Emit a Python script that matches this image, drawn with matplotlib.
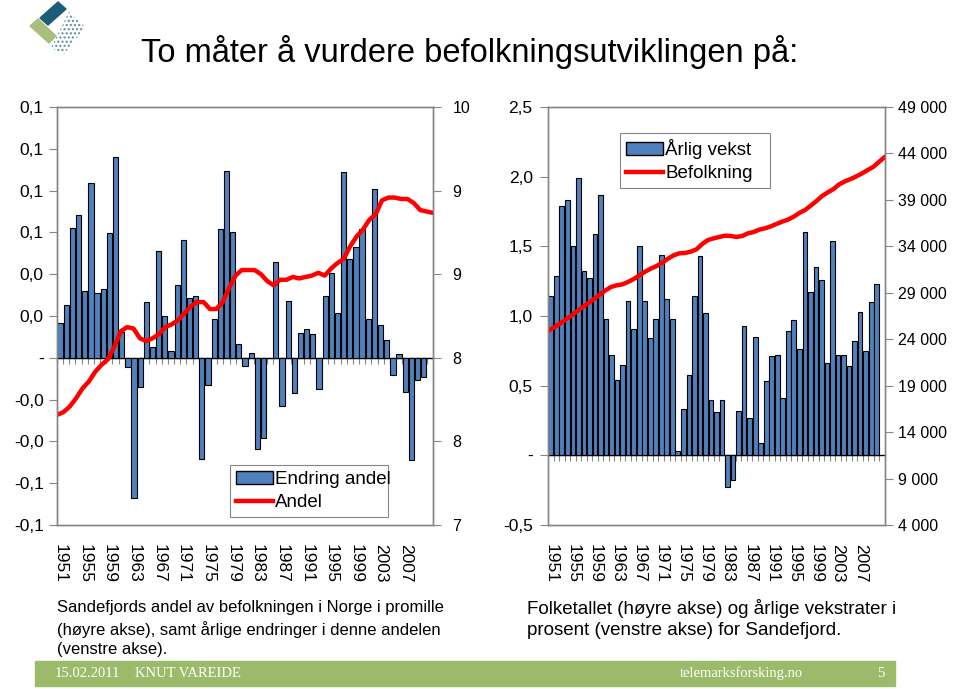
import numpy as np
import matplotlib
matplotlib.use("Agg")
import matplotlib.pyplot as plt
from matplotlib.patches import Rectangle, Polygon, Patch
from matplotlib.lines import Line2D

plt.rcParams['font.family'] = ['Liberation Sans', 'DejaVu Sans']

# --- data -------------------------------------------------------------
years = list(range(1951, 2011))
year_labels = [str(y) if (y - 1951) % 4 == 0 else '' for y in years]

# venstre figur: årlig endring i andel (promille-poeng) og andel (promille)
endring_andel = [0.0166, 0.0254, 0.0621, 0.0682, 0.0318, 0.0835, 0.0312, 0.0328, 0.0597, 0.0960,
                 0.0123, -0.0043, -0.0672, -0.0139, 0.0267, 0.0051, 0.0512, 0.0200, 0.0032, 0.0347,
                 0.0562, 0.0288, 0.0298, -0.0486, -0.0128, 0.0187, 0.0618, 0.0893, 0.0602, 0.0064,
                 -0.0037, 0.0024, -0.0434, -0.0384, 0.0000, 0.0458, -0.0230, 0.0272, -0.0168, 0.0117,
                 0.0136, 0.0114, -0.0150, 0.0296, 0.0408, 0.0213, 0.0888, 0.0472, 0.0528, 0.0614,
                 0.0186, 0.0810, 0.0155, 0.0083, -0.0080, 0.0016, -0.0165, -0.0488, -0.0104, -0.0091]
andel = [7.79, 7.81, 7.85, 7.91, 7.98, 8.03, 8.10, 8.15, 8.19, 8.28,
         8.39, 8.42, 8.41, 8.34, 8.32, 8.34, 8.37, 8.42, 8.44, 8.47,
         8.52, 8.57, 8.60, 8.60, 8.55, 8.55, 8.60, 8.70, 8.79, 8.83,
         8.83, 8.83, 8.80, 8.75, 8.72, 8.76, 8.76, 8.78, 8.77, 8.78,
         8.79, 8.81, 8.79, 8.84, 8.88, 8.91, 9.00, 9.07, 9.12, 9.19,
         9.23, 9.33, 9.35, 9.35, 9.34, 9.34, 9.31, 9.26, 9.25, 9.24]

# høyre figur: årlig vekst (%) og folketall
arlig_vekst = [1.14, 1.29, 1.79, 1.83, 1.50, 1.99, 1.32, 1.27, 1.59, 1.87,
               0.98, 0.72, 0.54, 0.65, 1.11, 0.91, 1.50, 1.11, 0.84, 0.98,
               1.44, 1.12, 0.98, 0.03, 0.33, 0.58, 1.14, 1.43, 1.02, 0.40,
               0.31, 0.40, -0.23, -0.18, 0.32, 0.93, 0.27, 0.85, 0.09, 0.53,
               0.71, 0.72, 0.41, 0.89, 0.97, 0.76, 1.60, 1.17, 1.35, 1.26,
               0.66, 1.54, 0.72, 0.72, 0.64, 0.82, 1.03, 0.75, 1.10, 1.23]
befolkning = [24890, 25250, 25640, 26070, 26500, 26970, 27430, 27870, 28300, 28760,
              29230, 29620, 29800, 29910, 30160, 30480, 30880, 31270, 31600, 31880,
              32240, 32670, 33030, 33250, 33280, 33430, 33680, 34250, 34680, 34860,
              35010, 35150, 35110, 35010, 35110, 35400, 35540, 35800, 35940, 36150,
              36410, 36660, 36870, 37190, 37590, 37910, 38380, 38880, 39420, 39820,
              40170, 40680, 41000, 41250, 41540, 41860, 42220, 42580, 43120, 43650]

# akseverdier og etiketter
l_left_ticks = [-0.08, -0.06, -0.04, -0.02, 0.0, 0.02, 0.04, 0.06, 0.08, 0.10, 0.12]
l_left_labels = ['-0,1', '-0,1', '-0,0', '-0,0', '-', '0,0', '0,0', '0,1', '0,1', '0,1', '0,1']
l_right_ticks = [7.0, 7.6, 8.2, 8.8, 9.4, 10.0]
l_right_labels = ['7', '8', '8', '9', '9', '10']
r_left_ticks = [-0.5, 0.0, 0.5, 1.0, 1.5, 2.0, 2.5]
r_left_labels = ['-0,5', '-', '0,5', '1,0', '1,5', '2,0', '2,5']
r_right_ticks = list(range(4000, 49001, 5000))
r_right_labels = ['{:,}'.format(v).replace(',', ' ') for v in r_right_ticks]

BAR_BLUE = '#4f81bd'
RED = '#ff0000'
GRAY = '#868686'

fig = plt.figure(figsize=(9.6, 6.89), dpi=100)

# dekor: logo og bunnlinje i pikselkoordinater
deco = fig.add_axes([0, 0, 1, 1], zorder=-5)
deco.set_xlim(0, 960)
deco.set_ylim(689, 0)
deco.axis('off')
deco.add_patch(Polygon([(40, 18), (58, 2), (66, 9), (48, 25)], closed=True, color='#1d5c78'))
deco.add_patch(Polygon([(30, 26), (38, 19), (56, 36), (49, 43)], closed=True, color='#a9c07c'))
deco.add_patch(Polygon([(51, 48), (69, 12), (85, 27), (64, 54)], closed=True,
                       facecolor='none', edgecolor='#5a8a9c', hatch='....', linewidth=0))
deco.add_patch(Rectangle((35, 661), 860, 25, color='#9bbb6a'))
foot = dict(color='white', fontsize=10.5, family='Liberation Serif', va='center')
deco.text(55, 673.5, '15.02.2011', **foot)
deco.text(135, 673.5, 'KNUT VAREIDE', **foot)
deco.text(680, 673.5, 'telemarksforsking.no', **foot)
deco.text(877, 673.5, '5', **foot)

fig.text(470 / 960, 1 - 52 / 689, 'To måter å vurdere befolkningsutviklingen på:',
         ha='center', va='center', fontsize=23.5)

x = np.arange(len(years))
x_line = np.linspace(-0.5, 60.5, len(years))


def style_panel(ax, axr, zero_frac):
    for a in (ax, axr):
        for s in a.spines.values():
            s.set_color(GRAY)
            s.set_linewidth(1.0)
    ax.set_xlim(-0.5, 60.5)
    ax.set_xticks(x)
    ax.set_xticklabels(year_labels, rotation=-90, fontsize=12.5)
    ax.tick_params(axis='x', length=0, pad=14)
    ax.tick_params(axis='y', direction='out', length=6, color=GRAY, labelsize=11.5)
    axr.tick_params(axis='y', direction='out', length=6, color=GRAY, labelsize=11.5)
    # nullinje med små merker mellom kategoriene
    zero = ax.secondary_xaxis(zero_frac)
    zero.set_xticks(np.arange(-0.5, 61, 1.0))
    zero.tick_params(direction='out', length=4, color=GRAY, labelbottom=False, labeltop=False)
    zero.spines['bottom'].set_color('black')
    zero.spines['bottom'].set_linewidth(1.0)


# --- venstre figur ----------------------------------------------------
ax1 = fig.add_axes([57 / 960, 1 - 525 / 689, 376 / 960, 418 / 689])
ax1r = ax1.twinx()
ax1.bar(x, endring_andel, width=0.85, color=BAR_BLUE, edgecolor='black', linewidth=0.8)
ax1.set_ylim(-0.08, 0.12)
ax1.set_yticks(l_left_ticks)
ax1.set_yticklabels(l_left_labels)
ax1r.plot(x_line, andel, color=RED, linewidth=3.2, solid_capstyle='round')
ax1r.set_ylim(7, 10)
ax1r.set_yticks(l_right_ticks)
ax1r.set_yticklabels(l_right_labels)
ax1r.tick_params(axis='y', pad=8)
style_panel(ax1, ax1r, 0.4)
ax1.tick_params(axis='y', labelsize=12.5)

handles = [Patch(facecolor=BAR_BLUE, edgecolor='black', linewidth=1.0),
           Line2D([], [], color=RED, linewidth=3.2)]
leg1 = ax1r.legend(handles, ['Endring andel', 'Andel'], loc='lower left',
                   bbox_to_anchor=(0.46, 0.019, 0.42, 0.132), mode='expand',
                   fontsize=13.5, frameon=True, fancybox=False, framealpha=1,
                   edgecolor=GRAY, handlelength=2.0, handletextpad=0.1,
                   borderpad=0.3, labelspacing=0.35, borderaxespad=0)
leg1.get_frame().set_linewidth(0.8)

# --- høyre figur ------------------------------------------------------
ax2 = fig.add_axes([548 / 960, 1 - 525 / 689, 337 / 960, 418 / 689])
ax2r = ax2.twinx()
ax2.bar(x, arlig_vekst, width=0.85, color=BAR_BLUE, edgecolor='black', linewidth=0.8)
ax2.set_ylim(-0.5, 2.5)
ax2.set_yticks(r_left_ticks)
ax2.set_yticklabels(r_left_labels)
ax2r.plot(x_line, befolkning, color=RED, linewidth=3.2, solid_capstyle='round')
ax2r.set_ylim(4000, 49000)
ax2r.set_yticks(r_right_ticks)
ax2r.set_yticklabels(r_right_labels)
style_panel(ax2, ax2r, 1 / 6)
ax2.tick_params(axis='y', pad=5, labelsize=12.5)

leg2 = ax2r.legend(handles, ['Årlig vekst', 'Befolkning'], loc='lower left',
                   bbox_to_anchor=(0.214, 0.806, 0.445, 0.139), mode='expand',
                   fontsize=13.5, frameon=True, fancybox=False, framealpha=1,
                   edgecolor=GRAY, handlelength=2.0, handletextpad=0.1,
                   borderpad=0.3, labelspacing=0.35, borderaxespad=0)
leg2.get_frame().set_linewidth(0.8)

# --- tekst under figurene ---------------------------------------------
fig.text(57 / 960, 1 - 600 / 689,
         'Sandefjords andel av befolkningen i Norge i promille\n'
         '(høyre akse), samt årlige endringer i denne andelen\n'
         '(venstre akse).', ha='left', va='top', fontsize=12, linespacing=1.4)
fig.text(527 / 960, 1 - 599 / 689,
         'Folketallet (høyre akse) og årlige vekstrater i\n'
         'prosent (venstre akse) for Sandefjord.',
         ha='left', va='top', fontsize=13.5, linespacing=1.3)

fig.savefig('out.png', dpi=100)
